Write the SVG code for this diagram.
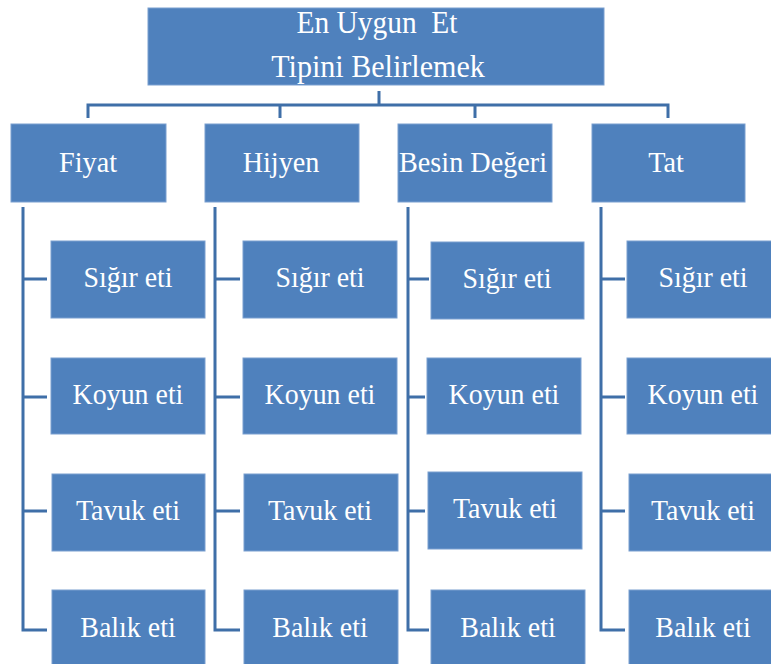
<svg xmlns="http://www.w3.org/2000/svg" width="771" height="664" viewBox="0 0 771 664">
<style>
.box{fill:#4F81BD;stroke:#7a9fd0;stroke-width:1}
.t{font-family:"Liberation Serif","Times New Roman",serif;fill:#fff;text-anchor:middle;white-space:pre}
.c{font-size:30px}
.h{font-size:30px}
.top{font-size:32px}
.ln{fill:none;stroke:#3f6fa8;stroke-width:3}
</style>
<rect width="771" height="664" fill="#fff"/>
<g id="connectors">
<path class="ln" d="M379 91V105M88 118V105H668V118M280 105V118M475 105V118"/>
<path class="ln" d="M23 207V630H47M23 279H47M23 397H47M23 511H47"/>
<path class="ln" d="M215 207V630H240M215 279H240M215 397H240M215 511H240"/>
<path class="ln" d="M408 207V630H429M408 279H429M408 397H425M408 511H425"/>
<path class="ln" d="M601 207V630H625M601 279H625M601 397H625M601 511H625"/>
</g>
<g id="root"><rect class="box" x="148" y="8" width="456" height="77"/><text class="t top" xml:space="preserve" transform="translate(377,33) scale(0.92,1)">En Uygun  Et</text><text class="t top" transform="translate(378,77) scale(0.94,1)">Tipini Belirlemek</text></g>
<g id="fiyat"><rect class="box" x="11" y="124" width="155" height="78"/><text class="t h" transform="translate(88,172) scale(0.94,1)">Fiyat</text></g>
<g id="hijyen"><rect class="box" x="205" y="124" width="154" height="78"/><text class="t h" transform="translate(281,172) scale(0.94,1)">Hijyen</text></g>
<g id="besin"><rect class="box" x="398" y="124" width="154" height="78"/><text class="t h" transform="translate(473,172) scale(0.94,1)">Besin Değeri</text></g>
<g id="tat"><rect class="box" x="592" y="124" width="153" height="78"/><text class="t h" transform="translate(666,172) scale(0.94,1)">Tat</text></g>

<g id="f1"><rect class="box" x="51" y="241" width="154" height="77"/><text class="t c" transform="translate(128,287) scale(0.93,1)">Sığır eti</text></g>
<g id="f2"><rect class="box" x="51" y="358" width="154" height="76"/><text class="t c" transform="translate(128,404) scale(0.93,1)">Koyun eti</text></g>
<g id="f3"><rect class="box" x="52" y="474" width="153" height="77"/><text class="t c" transform="translate(128,520) scale(0.93,1)">Tavuk eti</text></g>
<g id="f4"><rect class="box" x="52" y="590" width="153" height="80"/><text class="t c" transform="translate(128,637) scale(0.93,1)">Balık eti</text></g>

<g id="h1"><rect class="box" x="243" y="241" width="154" height="77"/><text class="t c" transform="translate(320,287) scale(0.93,1)">Sığır eti</text></g>
<g id="h2"><rect class="box" x="243" y="358" width="154" height="76"/><text class="t c" transform="translate(320,404) scale(0.93,1)">Koyun eti</text></g>
<g id="h3"><rect class="box" x="244" y="474" width="154" height="77"/><text class="t c" transform="translate(320,520) scale(0.93,1)">Tavuk eti</text></g>
<g id="h4"><rect class="box" x="244" y="590" width="154" height="80"/><text class="t c" transform="translate(320,637) scale(0.93,1)">Balık eti</text></g>

<g id="b1"><rect class="box" x="431" y="242" width="153" height="77"/><text class="t c" transform="translate(507,288) scale(0.93,1)">Sığır eti</text></g>
<g id="b2"><rect class="box" x="427" y="358" width="154" height="76"/><text class="t c" transform="translate(504,404) scale(0.93,1)">Koyun eti</text></g>
<g id="b3"><rect class="box" x="428" y="472" width="154" height="77"/><text class="t c" transform="translate(505,518) scale(0.93,1)">Tavuk eti</text></g>
<g id="b4"><rect class="box" x="431" y="590" width="154" height="80"/><text class="t c" transform="translate(508,637) scale(0.93,1)">Balık eti</text></g>

<g id="t1"><rect class="box" x="627" y="241" width="150" height="77"/><text class="t c" transform="translate(703,287) scale(0.93,1)">Sığır eti</text></g>
<g id="t2"><rect class="box" x="627" y="358" width="150" height="76"/><text class="t c" transform="translate(703,404) scale(0.93,1)">Koyun eti</text></g>
<g id="t3"><rect class="box" x="629" y="474" width="148" height="77"/><text class="t c" transform="translate(703,520) scale(0.93,1)">Tavuk eti</text></g>
<g id="t4"><rect class="box" x="629" y="590" width="148" height="80"/><text class="t c" transform="translate(703,637) scale(0.93,1)">Balık eti</text></g>
</svg>
